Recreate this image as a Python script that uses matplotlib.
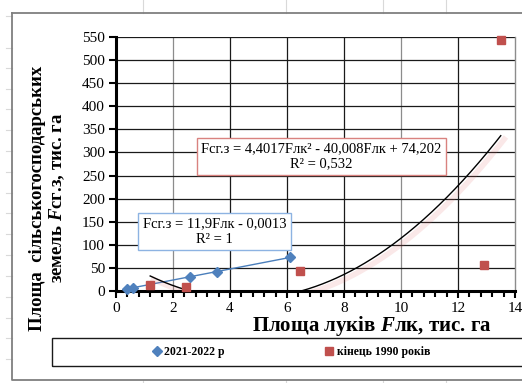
import matplotlib
matplotlib.use("Agg")
import matplotlib.pyplot as plt
import matplotlib.patheffects as pe
from matplotlib.lines import Line2D
from matplotlib.patches import Rectangle
import numpy as np

plt.rcParams['font.family'] = ['Liberation Serif', 'DejaVu Serif']
plt.rcParams['mathtext.fontset'] = 'custom'
plt.rcParams['mathtext.it'] = 'Liberation Serif:bold:italic'
plt.rcParams['mathtext.rm'] = 'Liberation Serif:bold'

# ---- data ----
x_2021 = [0.4, 0.6, 2.6, 3.55, 6.1]
y_2021 = [4.8, 7.1, 30.9, 42.2, 72.6]
x_1990 = [1.2, 2.45, 6.45, 12.9, 13.5]
y_1990 = [12, 8, 44, 57, 543]
lin_coef = [11.9, -0.0013]
quad_coef = [4.4017, -40.008, 74.202]
label_2021 = "2021-2022 р"
label_1990 = "кінець 1990 років"
eq_quad = "Fсг.з = 4,4017Fлк² - 40,008Fлк + 74,202\nR² = 0,532"
eq_lin = "Fсг.з = 11,9Fлк - 0,0013\nR² = 1"
xticks = [0, 2, 4, 6, 8, 10, 12, 14]
yticks = list(range(0, 551, 50))

W, H = 522, 383
fig = plt.figure(figsize=(W / 100, H / 100), dpi=100)

def fx(px):
    return px / W

def fy(py):
    return 1 - py / H

# spreadsheet background lines
for xx in [143, 286, 383, 446]:
    fig.add_artist(Line2D([fx(xx), fx(xx)], [fy(0), fy(13)], color='#d9d9d9', lw=0.8))
    fig.add_artist(Line2D([fx(xx), fx(xx)], [fy(380), fy(383)], color='#d9d9d9', lw=0.8))
for yy in [16, 48, 68, 89, 109, 130, 151, 172, 193, 213, 234, 255, 276, 297, 318, 338, 359]:
    fig.add_artist(Line2D([fx(6), fx(12)], [fy(yy), fy(yy)], color='#d9d9d9', lw=0.8))

# chart outer border (top, left, bottom)
fig.add_artist(Line2D([fx(12), fx(12), fx(W + 5)], [fy(13), fy(380), fy(380)], color='#7f7f7f', lw=1.3))
fig.add_artist(Line2D([fx(12), fx(W + 5)], [fy(13), fy(13)], color='#7f7f7f', lw=1.3))

ax = fig.add_axes([fx(116), fy(291), fx(515) - fx(116), fy(37) - fy(291)])
ax.set_xlim(0, 14)
ax.set_ylim(0, 550)

# gridlines
for xv in xticks[1:-1]:
    c = '#8c8c8c' if xv in (2, 10) else '#1a1a1a'
    ax.axvline(xv, color=c, lw=0.9, zorder=0.5)
for yv in yticks[1:]:
    ax.axhline(yv, color='#1a1a1a', lw=0.9, zorder=0.5)

# spines
ax.spines['left'].set_linewidth(2.2)
ax.spines['bottom'].set_linewidth(2.2)
ax.spines['top'].set_visible(False)
ax.spines['right'].set_color('#8c8c8c')
ax.spines['right'].set_linewidth(1.0)

ax.set_xticks(xticks)
ax.set_yticks(yticks)
ax.set_xticks(np.arange(0, 14.01, 0.4), minor=True)
ax.tick_params(axis='x', which='major', direction='out', length=5, width=1.5, pad=3, labelsize=11)
ax.tick_params(axis='x', which='minor', direction='out', length=4, width=1.5)
ax.tick_params(axis='y', which='major', direction='out', length=5, width=1.5, pad=3, labelsize=11)

# trendlines
xl = np.linspace(min(x_2021), max(x_2021), 50)
ax.plot(xl, np.polyval(lin_coef, xl), color='#4a7ebb', lw=1.0, zorder=2)
xq = np.linspace(min(x_1990), max(x_1990), 400)
yq = np.polyval(quad_coef, xq)
yq = np.where(yq < 0, np.nan, yq)
ax.plot(xq, yq, color='black', lw=1.0, zorder=2,
        path_effects=[pe.SimpleLineShadow(offset=(2.5, -2.5), shadow_color='#e06666', alpha=0.15, linewidth=4),
                      pe.Normal()])

# data points
ax.plot(x_2021, y_2021, linestyle='none', marker='D', ms=5.5, color='#4f81bd', zorder=4, clip_on=False,
        label=label_2021)
ax.plot(x_1990, y_1990, linestyle='none', marker='s', ms=5.5, color='#c0504d', zorder=4, clip_on=False,
        label=label_1990)

# equation boxes
ax.text(0.515, 0.5295, eq_quad, transform=ax.transAxes, ha='center', va='center', fontsize=10.5,
        multialignment='center', zorder=5,
        bbox=dict(boxstyle='square,pad=0.3', fc='white', ec='#d9827f', lw=1.0))
ax.text(0.2469, 0.234, eq_lin, transform=ax.transAxes, ha='center', va='center', fontsize=10.5,
        multialignment='center', zorder=5,
        bbox=dict(boxstyle='square,pad=0.3', fc='white', ec='#8db3e2', lw=1.0))

# axis labels
fig.text(fx(372), fy(326), "Площа луків $\\mathit{F}$лк, тис. га", ha='center', va='center',
         fontsize=15, fontweight='bold')
fig.text(fx(48), fy(198), "Площа  сільськогосподарських\nземель $\\mathit{F}$сг.з, тис. га",
         rotation=90, ha='center', va='center', multialignment='center', fontsize=13.5,
         fontweight='bold', linespacing=1.15)

# legend box
fig.add_artist(Rectangle((fx(52), fy(366)), fx(W + 5) - fx(52), fy(338) - fy(366),
                         transform=fig.transFigure, fill=False, ec='#1a1a1a', lw=1.0))
leg = fig.legend(loc='center', bbox_to_anchor=(fx(291), fy(352)), ncol=2, frameon=False,
                 prop={'weight': 'bold', 'size': 8.5}, handlelength=0.8, handletextpad=0.2,
                 columnspacing=8.5, markerscale=1.0)

fig.savefig('out.png', dpi=100, facecolor='white')
